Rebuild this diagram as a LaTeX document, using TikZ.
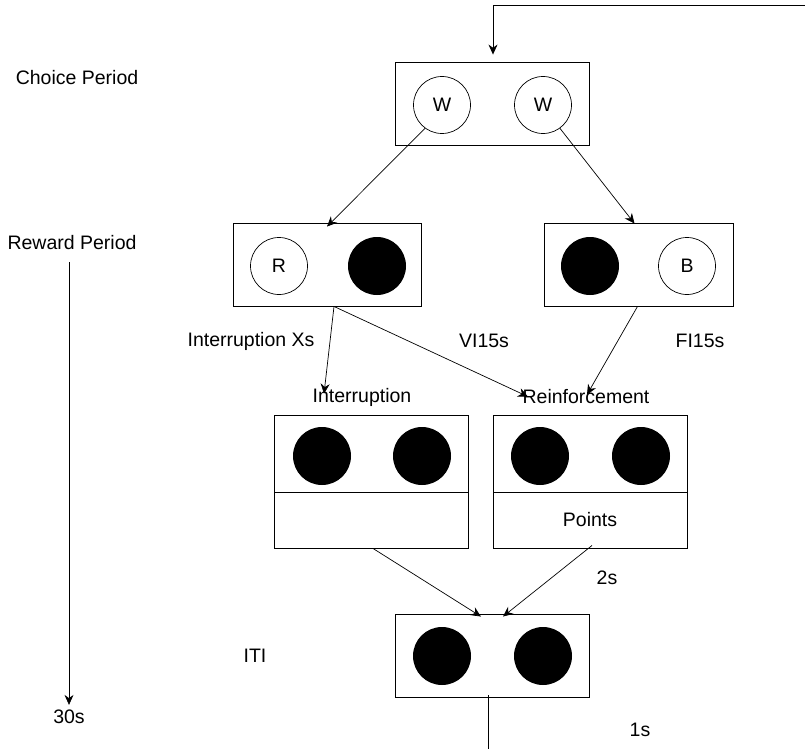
\documentclass[tikz,border=0pt]{standalone}
\usepackage{fontspec}
\setmainfont{Liberation Sans}
\usetikzlibrary{arrows.meta}
\begin{document}
\begin{tikzpicture}[x=1pt,y=-1pt,
  every node/.style={font=\fontsize{19.5}{23}\selectfont},
  box/.style={draw,line width=0.9pt,minimum width=194pt,minimum height=83pt,inner sep=0pt},
  ring/.style={draw,circle,line width=0.7pt,minimum size=57pt,inner sep=0pt},
  dot/.style={circle,fill=black,minimum size=58pt,inner sep=0pt},
  lbl/.style={inner sep=0pt},
  con/.style={line width=0.7pt},
  arr/.style={con,-{Stealth[length=10pt,width=9pt]}}]
\useasboundingbox (0,0) rectangle (805,749);
% boxes
\node[box] (cb) at (492,103.5) {};
\node[ring] (w1) at (442,105) {W};
\node[ring] (w2) at (543,105) {W};
\node[box,minimum width=188pt] (rl) at (327,264.5) {};
\node[ring] (r) at (279,266) {R};
\node[dot] (rld) at (377,266) {};
\node[box,minimum width=189pt] (rr) at (638.5,264.5) {};
\node[dot] (rrd) at (590,266) {};
\node[ring] (b) at (687,266) {B};
\node[box,minimum height=77pt] (it) at (371,453.5) {};
\node[box,minimum height=56pt] (ib) at (371,520) {};
\node[dot] (i1) at (322,456) {};
\node[dot] (i2) at (422,456) {};
\node[box,minimum height=77pt] (rt) at (590,453.5) {};
\node[box,minimum height=56pt] (rb) at (590,520) {Points};
\node[dot] (f1) at (540,456) {};
\node[dot] (f2) at (641,456) {};
\node[box] (iti) at (492,655.5) {};
\node[dot] (t1) at (442,656) {};
\node[dot] (t2) at (543,656) {};
% labels
\node[lbl] (choice) at (77,78) {Choice Period};
\node[lbl] (reward) at (72,243) {Reward Period};
\node[lbl] (t30) at (69,717) {30s};
\node[lbl] (ixs) at (251,341) {Interruption Xs};
\node[lbl] (vi) at (484,341) {VI15s};
\node[lbl] (fi) at (700,341) {FI15s};
\node[lbl] (intl) at (362,397) {Interruption};
\node[lbl] (reinl) at (586,397) {Reinforcement};
\node[lbl] (two) at (607,578) {2s};
\node[lbl] (iti-l) at (255,656) {ITI};
\node[lbl] (one) at (640,730) {1s};
% connectors
\coordinate (fbstart) at (805,5);
\coordinate (bottom) at (488,749);
\draw[arr,shorten >=7pt] (fbstart) -| ([xshift=1]cb.north);
\draw[arr] (w1.234) -- ([yshift=-4]rl.north);
\draw[arr] (w2.306) -- ([xshift=-4,yshift=-1]rr.north);
\draw[arr] ([xshift=7]rl.south) -- ([xshift=-38,yshift=-6]intl.north);
\draw[arr] ([xshift=7]rl.south) -- ([xshift=-58,yshift=-7]reinl.north);
\draw[arr] ([xshift=-1]rr.south) -- ([xshift=1,yshift=-5]reinl.north);
\draw[arr] ([xshift=2]ib.south) -- ([xshift=-11,yshift=-3]iti.north);
\draw[arr] ([xshift=2,yshift=3]rb.south) -- ([xshift=11,yshift=-3]iti.north);
\draw[con] ([xshift=-4,yshift=2]iti.south) -- (bottom);
\draw[arr,shorten <=12pt,shorten >=5pt] (reward.south -| t30.north) -- (t30.north);
\end{tikzpicture}
\end{document}
